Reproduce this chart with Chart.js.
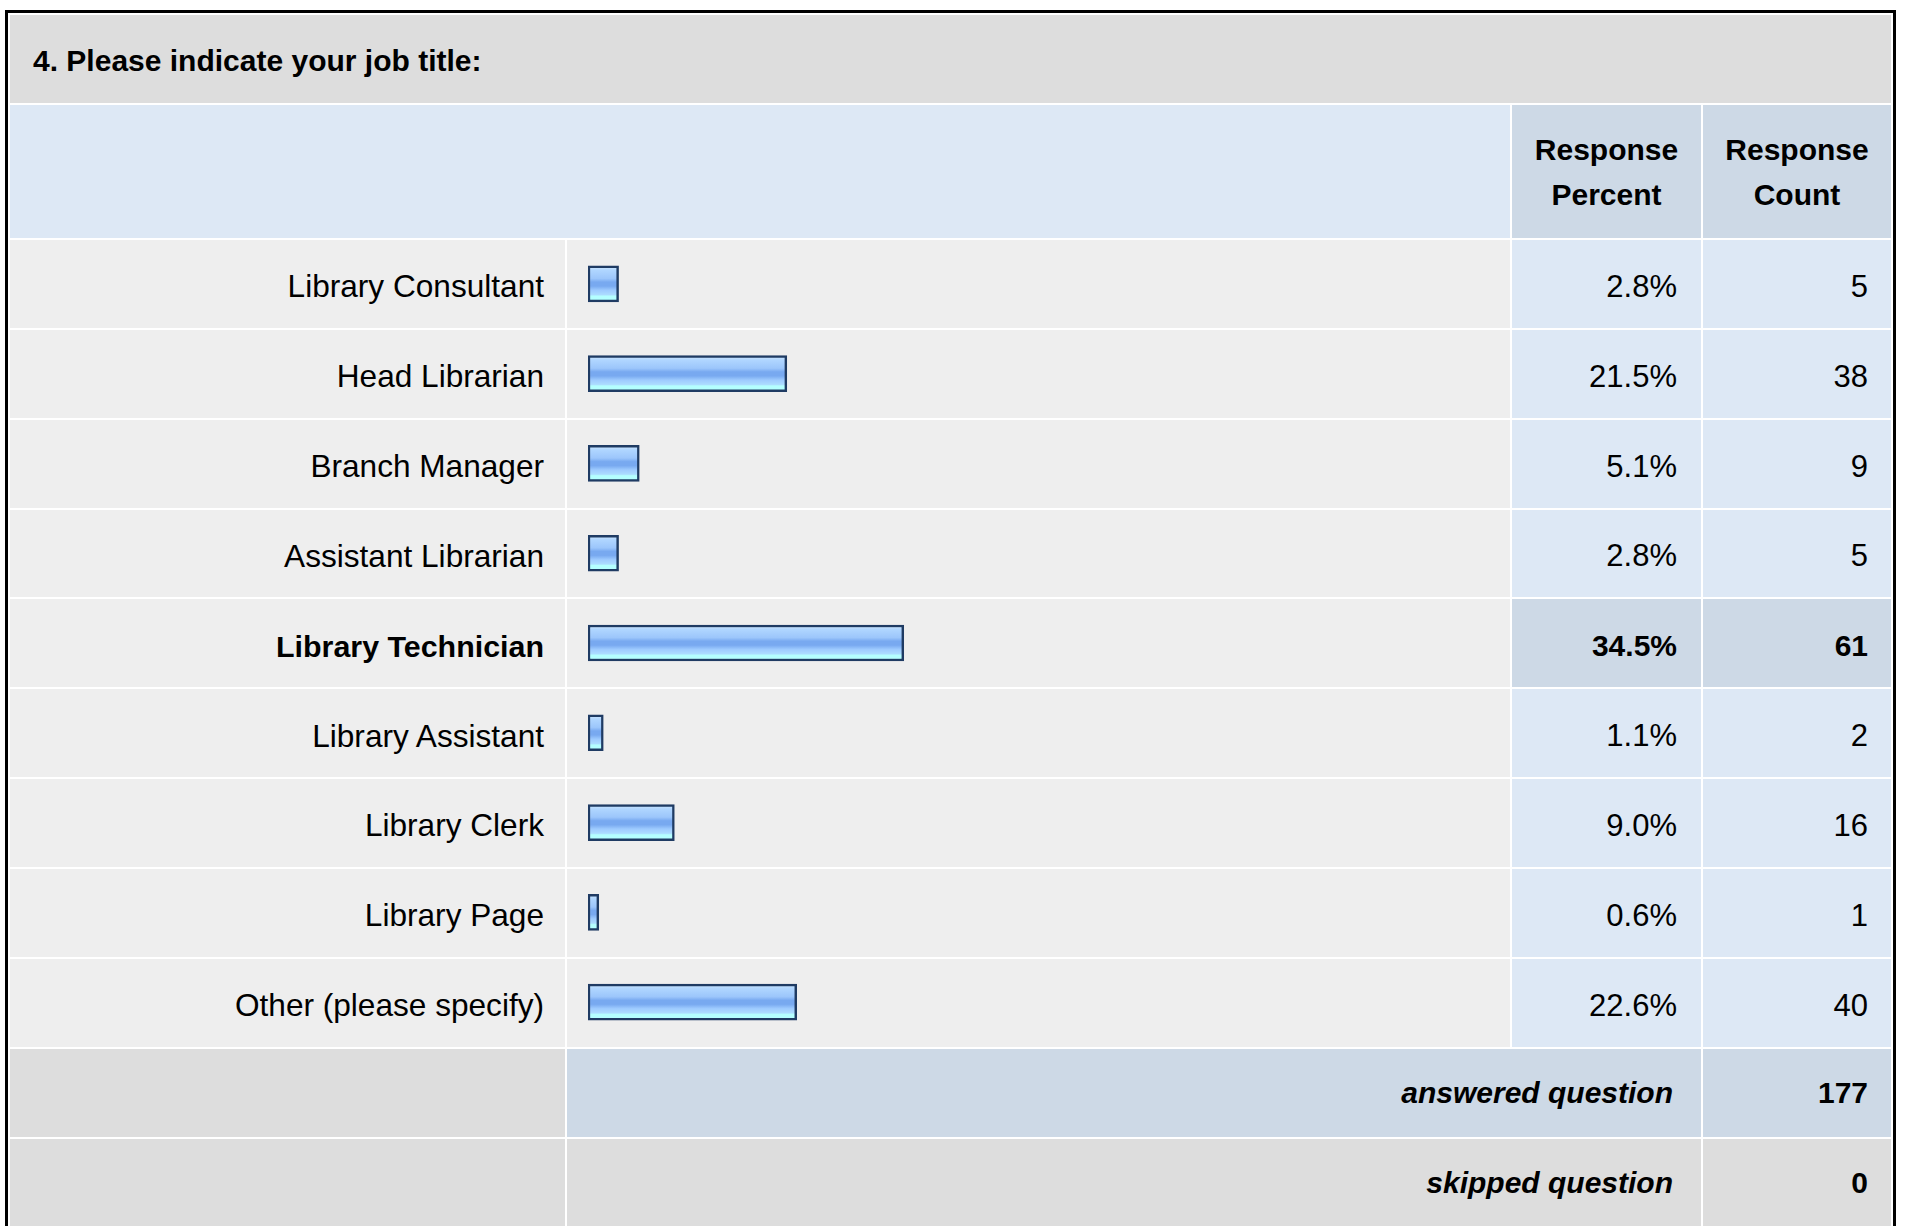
<!DOCTYPE html>
<html>
<head>
<meta charset="utf-8">
<script src="https://cdn.jsdelivr.net/npm/chart.js@4/dist/chart.umd.min.js"></script>
<style>
  html, body { margin: 0; padding: 0; background: #fff; overflow: hidden; }
  body { width: 1907px; height: 1226px; position: relative; font-family: "Liberation Sans", Arial, sans-serif; color: #000; }
  #wrap { position: absolute; left: 5px; top: 10px; width: 1885px; border: 3px solid #000; border-bottom: none; }
  table { border-collapse: separate; border-spacing: 2px; table-layout: fixed; width: 1885px; }
  td { padding: 0; vertical-align: middle; font-size: 31px; white-space: nowrap; }
  td span.t { position: relative; top: 3px; }
  .title { background: #dddddd; height: 88px; padding-left: 23px; font-weight: bold; font-size: 30px; }
  .title span { position: relative; top: 2px; }
  .head { background: #dde8f5; height: 133px; }
  .headcell { background: #cdd9e6; text-align: center; font-weight: bold; font-size: 30px; line-height: 45px; }
  .lab { background: #eeeeee; height: 87.85px; text-align: right; padding-right: 21px; font-size: 31.6px; }
  .bar { background: #eeeeee; }
  .pct { background: #dde8f5; text-align: right; padding-right: 24px; }
  .cnt { background: #dde8f5; text-align: right; padding-right: 23px; }
  tr.hi td { font-weight: bold; font-size: 30px; }
  tr.hi td.lab { font-size: 30.4px; }
  tr.hi .pct, tr.hi .cnt { background: #cdd9e6; }
  .foot { background: #dddddd; height: 88px; }
  .ans { background: #cdd9e6; text-align: right; padding-right: 28px; font-weight: bold; font-style: italic; font-size: 30px; }
  .anscnt { background: #cdd9e6; text-align: right; padding-right: 23px; font-weight: bold; font-size: 30px; }
  .skp { background: #dddddd; text-align: right; padding-right: 28px; font-weight: bold; font-style: italic; font-size: 30px; }
  .skpcnt { background: #dddddd; text-align: right; padding-right: 23px; font-weight: bold; font-size: 30px; }
  #barChart { position: absolute; left: 588px; top: 239px; }
</style>
</head>
<body>
<div id="wrap">
  <table id="tbl">
    <colgroup>
      <col style="width:555px"><col style="width:943px"><col style="width:189px"><col style="width:188px">
    </colgroup>
    <tbody id="tb"></tbody>
  </table>
</div>
<canvas id="barChart" width="905" height="808" style="width:905px;height:808px"></canvas>

<script>
var question = '4. Please indicate your job title:';
var jobTitles = ['Library Consultant', 'Head Librarian', 'Branch Manager', 'Assistant Librarian',
                 'Library Technician', 'Library Assistant', 'Library Clerk', 'Library Page', 'Other (please specify)'];
var responsePercent = [2.8, 21.5, 5.1, 2.8, 34.5, 1.1, 9.0, 0.6, 22.6];
var responseCount = [5, 38, 9, 5, 61, 2, 16, 1, 40];
var answeredQuestion = 177;
var skippedQuestion = 0;

//================================ table
var tb = document.getElementById('tb');
var topIdx = responseCount.indexOf(Math.max.apply(null, responseCount));

var html = '<tr><td class="title" colspan="4"><span>' + question + '</span></td></tr>';
html += '<tr><td class="head" colspan="2"></td><td class="headcell">Response<br>Percent</td><td class="headcell">Response<br>Count</td></tr>';
for (var i in jobTitles) {
    html += '<tr' + (i == topIdx ? ' class="hi"' : '') + '>' +
        '<td class="lab"><span class="t">' + jobTitles[i] + '</span></td>' +
        '<td class="bar"></td>' +
        '<td class="pct"><span class="t">' + responsePercent[i].toFixed(1) + '%</span></td>' +
        '<td class="cnt"><span class="t">' + responseCount[i] + '</span></td></tr>';
}
html += '<tr><td class="foot"></td><td class="ans" colspan="2">answered question</td><td class="anscnt">' + answeredQuestion + '</td></tr>';
html += '<tr><td class="foot"></td><td class="skp" colspan="2">skipped question</td><td class="skpcnt">' + skippedQuestion + '</td></tr>';
tb.innerHTML = html;

//================================ bars
function barGradient(context) {
    var chart = context.chart;
    var yScale = chart.scales.y;
    if (!yScale || context.dataIndex === undefined) return '#9cc8ff';
    var c = yScale.getPixelForValue(context.dataIndex);
    if (!isFinite(c)) return '#9cc8ff';
    var g = chart.ctx.createLinearGradient(0, c - 18, 0, c + 18);
    g.addColorStop(0, '#d4ebff');
    g.addColorStop(0.12, '#b0d6ff');
    g.addColorStop(0.35, '#9cc6fb');
    g.addColorStop(0.45, '#78a9f0');
    g.addColorStop(0.56, '#78a9f0');
    g.addColorStop(0.68, '#9ecbff');
    g.addColorStop(0.8, '#acdcff');
    g.addColorStop(0.84, '#b4ffff');
    g.addColorStop(1, '#b4ffff');
    return g;
}

var ctx = document.getElementById('barChart');
var jobChart = new Chart(ctx, {
    type: 'bar',
    data: {
        labels: jobTitles,
        datasets: [{
            label: 'Response Percent',
            data: responsePercent,
            base: -0.6,
            backgroundColor: barGradient,
            borderColor: '#1f3b63',
            borderWidth: 2.5,
            borderSkipped: false,
            barThickness: 36
        }]
    },
    options: {
        indexAxis: 'y',
        responsive: false,
        animation: false,
        events: [],
        layout: { padding: 0 },
        plugins: {
            legend: { display: false },
            tooltip: { enabled: false },
            title: { display: false }
        },
        scales: {
            x: { display: false, min: -0.6, max: 100 },
            y: { display: false }
        }
    }
});
</script>
</body>
</html>
